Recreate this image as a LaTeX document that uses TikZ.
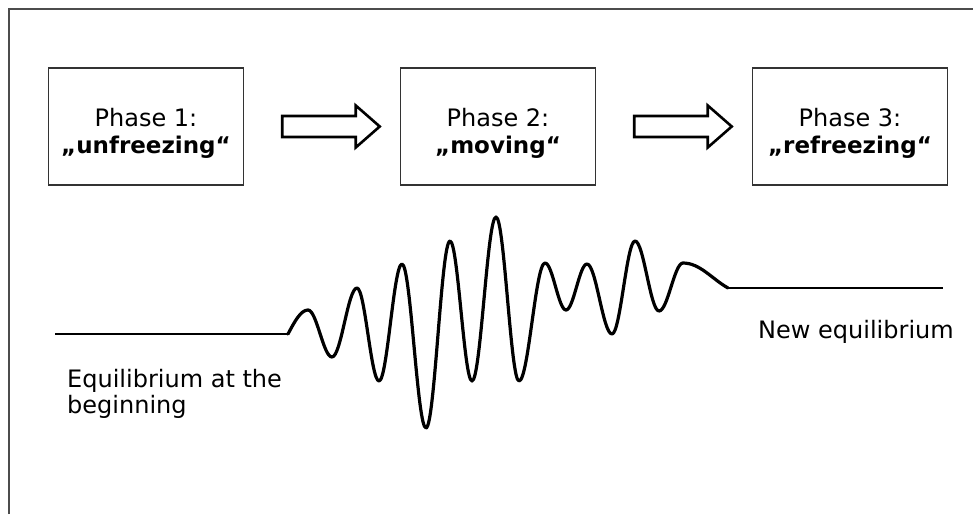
\documentclass[tikz,border=0pt]{standalone}
\usepackage{fontspec}
\setmainfont{DejaVu Sans}
\usetikzlibrary{calc}
\newcommand\blockarrow[2]{%
  \draw[blockarr] let \p1=(#1.east), \p2=(#2.west) in
    (\x1+38pt,\y1+10.5pt) -- (\x2-44pt,\y1+10.5pt) -- (\x2-44pt,\y1+21pt)
    -- (\x2-20pt,\y1) -- (\x2-44pt,\y1-21pt) -- (\x2-44pt,\y1-10.5pt)
    -- (\x1+38pt,\y1-10.5pt) -- cycle;}
\begin{document}
\begin{tikzpicture}[x=1pt,y=-1pt,
  frame/.style={draw=black!70, line width=2pt},
  phasebox/.style={draw=black!80, line width=1.5pt, minimum width=195pt,
    minimum height=117pt, inner sep=0pt},
  lbl/.style={inner sep=0pt, font=\fontsize{24}{27}\selectfont},
  boldlbl/.style={inner sep=0pt, font=\fontsize{23}{27}\selectfont\bfseries},
  blockarr/.style={draw=black, line width=2.6pt, line join=miter},
  eqline/.style={draw=black, line width=2pt},
  wave/.style={draw=black, line width=3.2pt, line join=round, line cap=round}]
\useasboundingbox (0,0) rectangle (973,514);
\draw[frame] (9,514) -- (9,9) -- (973,9);
% phase boxes
\node[phasebox] (b1) at (146,126.5) {};
\node[phasebox] (b2) at (498,126.5) {};
\node[phasebox] (b3) at (850,126.5) {};
\node[lbl, anchor=base] (t1a) at ([yshift=0.5pt]b1.center) {Phase 1:};
\node[boldlbl, anchor=base] (t1b) at ([yshift=-26.5pt]b1.center) {„unfreezing“};
\node[lbl, anchor=base] (t2a) at ([yshift=0.5pt]b2.center) {Phase 2:};
\node[boldlbl, anchor=base] (t2b) at ([yshift=-26.5pt]b2.center) {„moving“};
\node[lbl, anchor=base] (t3a) at ([yshift=0.5pt]b3.center) {Phase 3:};
\node[boldlbl, anchor=base] (t3b) at ([yshift=-26.5pt]b3.center) {„refreezing“};
% block arrows
\blockarrow{b1}{b2}
\blockarrow{b2}{b3}
% equilibrium lines
\coordinate (s0) at (55,334);
\coordinate (s1) at (288,334);
\coordinate (e0) at (728,288);
\coordinate (e1) at (943,288);
\draw[eqline] (s0) -- (s1);
\draw[eqline] (e0) -- (e1);
% oscillation
\draw[wave] (s1) sin (308,310)
  cos (320,333.5) sin (332,357)
  cos (344.5,322.5) sin (357,288)
  cos (368,334.5) sin (379,381)
  cos (390.5,322.5) sin (402,264)
  cos (414,346) sin (426,428)
  cos (438,334.5) sin (450,241)
  cos (461,311) sin (472,381)
  cos (484,299) sin (496,217)
  cos (507.5,299) sin (519,381)
  cos (532,322) sin (545,263)
  cos (555.5,286.5) sin (566,310)
  cos (576.5,287) sin (587,264)
  cos (599.5,299) sin (612,334)
  cos (623.5,287.5) sin (635,241)
  cos (647,276) sin (659,311)
  cos (671,287) sin (683,263)
  .. controls (700,263) and (712,279) .. (e0);
% labels
\node[lbl, anchor=base west] (eqA) at (67,387) {Equilibrium at the};
\node[lbl, anchor=base west] (eqB) at (67,413) {beginning};
\node[lbl, anchor=base west] (neq) at (758,338) {New equilibrium};
\end{tikzpicture}
\end{document}
